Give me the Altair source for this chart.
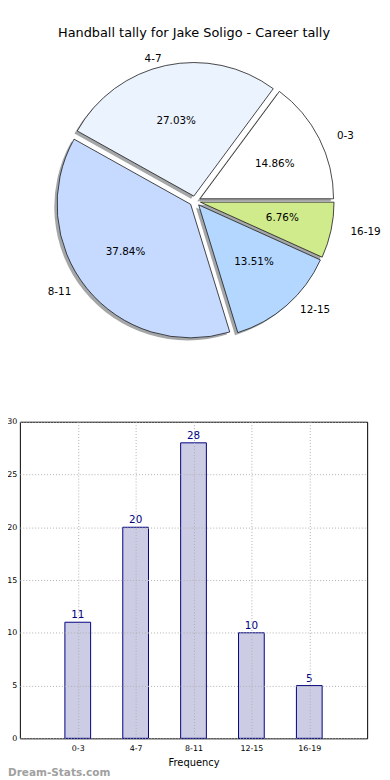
import math
import altair as alt
import pandas as pd

# ---- data ----
cats = ["0-3", "4-7", "8-11", "12-15", "16-19"]
counts = [11, 20, 28, 10, 5]
pie_colors = ["#ffffff", "#ebf3ff", "#c6d9ff", "#b4d7ff", "#d0eb8b"]
title_text = "Handball tally for Jake Soligo - Career tally"
x_title = "Frequency"
y_title = "Stat Value"
watermark = "Dream-Stats.com"
y_ticks = [0, 5, 10, 15, 20, 25, 30]

total = sum(counts)
EXPLODE = 0.04

rows = []
start = 0
for c, n in zip(cats, counts):
    mid = 2 * math.pi * (start + n / 2) / total
    rows.append(dict(
        cat=c, count=n, t0=start, t1=start + n,
        ex=EXPLODE * math.cos(mid), ey=EXPLODE * math.sin(mid),
        px=(EXPLODE + 0.6) * math.cos(mid), py=(EXPLODE + 0.6) * math.sin(mid),
        lx=(EXPLODE + 1.1) * math.cos(mid), ly=(EXPLODE + 1.1) * math.sin(mid),
        side="left" if math.cos(mid) >= 0 else "right",
        pct=f"{100 * n / total:.2f}%",
    ))
    start += n
pie_df = pd.DataFrame(rows)
bar_df = pd.DataFrame({"cat": cats, "count": counts})

# ---- pie ----
PW, PH = 363, 306
RX, RY = 141, 129
CX = 177
R = 135
xs = alt.Scale(domain=[-CX / RX, (PW - CX) / RX], nice=False, zero=False)
ys = alt.Scale(domain=[-PH / 2 / RY, PH / 2 / RY], nice=False, zero=False)
ts = alt.Scale(domain=[0, total], range=[math.pi / 2, math.pi / 2 - 2 * math.pi])

base = alt.Chart(pie_df)
arc_enc = dict(
    x=alt.X("ex:Q", scale=xs, axis=None),
    y=alt.Y("ey:Q", scale=ys, axis=None),
    theta=alt.Theta("t0:Q", scale=ts),
    theta2=alt.Theta2("t1:Q"),
)
shadow = base.mark_arc(radius=R, xOffset=-2.8, yOffset=2.6, fill="#4a4d52",
                       opacity=0.5).encode(**arc_enc)
slices = base.mark_arc(radius=R, stroke="#1a1a1a", strokeWidth=0.8).encode(
    color=alt.Color("cat:N", scale=alt.Scale(domain=cats, range=pie_colors), legend=None),
    **arc_enc,
)
pct = base.mark_text(fontSize=10.5, color="black").encode(
    x=alt.X("px:Q", scale=xs, axis=None),
    y=alt.Y("py:Q", scale=ys, axis=None),
    text="pct:N",
)
lab_l = base.transform_filter(alt.datum.side == "left").mark_text(
    align="left", baseline="middle", fontSize=10.5, color="black").encode(
    x=alt.X("lx:Q", scale=xs, axis=None),
    y=alt.Y("ly:Q", scale=ys, axis=None),
    text="cat:N",
)
lab_r = base.transform_filter(alt.datum.side == "right").mark_text(
    align="right", baseline="middle", fontSize=10.5, color="black").encode(
    x=alt.X("lx:Q", scale=xs, axis=None),
    y=alt.Y("ly:Q", scale=ys, axis=None),
    text="cat:N",
)
pie = alt.layer(shadow, slices, pct, lab_l, lab_r).properties(
    width=PW, height=PH,
    title=alt.TitleParams(title_text, fontSize=13, fontWeight="normal",
                          color="black", anchor="middle", offset=10, dx=-5.5),
)

# ---- bars ----
bx = alt.X("cat:N", sort=cats, scale=alt.Scale(type="point", padding=1),
           axis=alt.Axis(title=x_title, labelAngle=0, grid=True, gridColor="#b0b0b0",
                         gridDash=[1, 2], ticks=False, domain=False, labelFontSize=8,
                         labelPadding=6, labelColor="black", titleFontSize=10,
                         titleFontWeight="normal", titlePadding=5, zindex=1))
by = alt.Y("count:Q", scale=alt.Scale(domain=[0, 30], nice=False),
           axis=alt.Axis(values=y_ticks, title=y_title, grid=True, gridColor="#b0b0b0",
                         gridDash=[1, 2], ticks=False, domain=False, labelFontSize=8,
                         labelPadding=3, labelColor="black", titleFontSize=9,
                         titleFontWeight="normal", titleX=-15, zindex=1))
bars = alt.Chart(bar_df).mark_bar(size=26, fill="#cccce5", stroke="#000080",
                                  strokeWidth=1).encode(x=bx, y=by)
blabels = alt.Chart(bar_df).mark_text(baseline="bottom", dy=-2, fontSize=10.5,
                                      color="#000080").encode(
    x=alt.X("cat:N", sort=cats), y="count:Q", text="count:Q")
bar_chart = alt.layer(bars, blabels).properties(
    width=351, height=320,
    view=alt.ViewBackground(stroke="black", strokeWidth=1),
    title=alt.TitleParams(watermark, orient="bottom", anchor="start", frame="bounds",
                          fontSize=10.6, fontWeight="bold", color="#a0a0a0", dx=12, offset=1),
)

chart = alt.vconcat(pie, bar_chart, spacing=64).properties(
    padding={"left": -13, "top": 14, "right": 0, "bottom": 0}
).configure(font="DejaVu Sans").configure_view(stroke="transparent")

chart.save("out.html", embed_options={"renderer": "svg", "actions": False})
